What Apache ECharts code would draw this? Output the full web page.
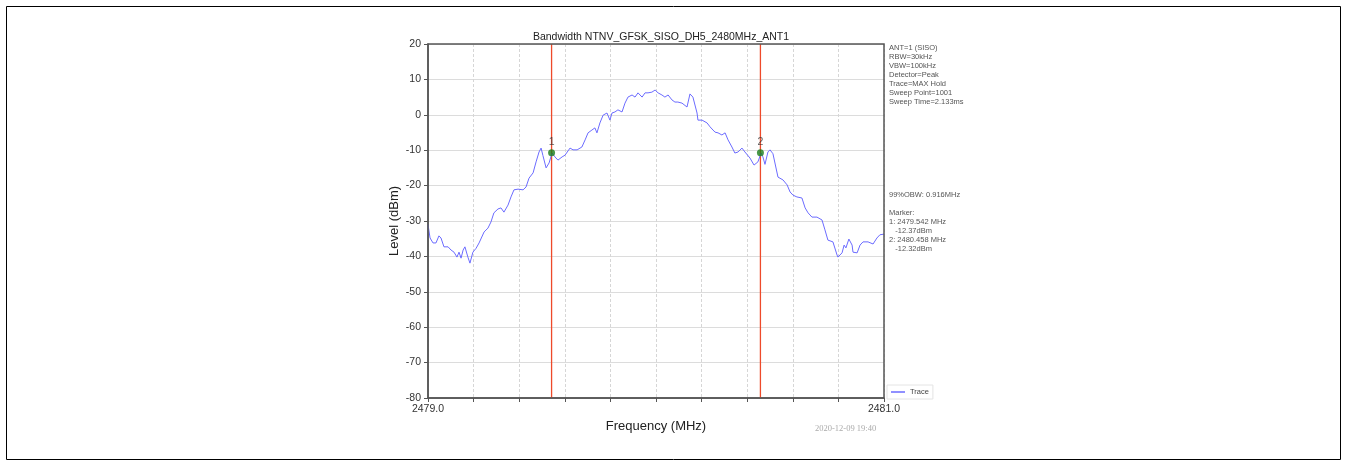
<!DOCTYPE html>
<html><head><meta charset="utf-8">
<script src="https://cdn.jsdelivr.net/npm/echarts@6/dist/echarts.min.js"></script>
<style>html,body{margin:0;padding:0;background:#fff}#c{width:1347px;height:466px}</style>
</head><body><div id="c"></div>
<script>
const title = 'Bandwidth NTNV_GFSK_SISO_DH5_2480MHz_ANT1';
const freqMHz = [2479.000,2479.009,2479.022,2479.035,2479.048,2479.057,2479.070,2479.088,2479.101,2479.114,2479.127,2479.136,2479.145,2479.154,2479.162,2479.175,2479.184,2479.197,2479.211,2479.224,2479.246,2479.263,2479.276,2479.289,2479.307,2479.320,2479.333,2479.351,2479.364,2479.377,2479.395,2479.417,2479.430,2479.443,2479.461,2479.474,2479.487,2479.496,2479.504,2479.518,2479.531,2479.544,2479.557,2479.570,2479.588,2479.601,2479.623,2479.636,2479.654,2479.675,2479.689,2479.702,2479.719,2479.732,2479.741,2479.754,2479.768,2479.785,2479.798,2479.807,2479.820,2479.833,2479.851,2479.864,2479.877,2479.895,2479.908,2479.921,2479.939,2479.952,2479.965,2479.982,2479.996,2480.009,2480.026,2480.039,2480.053,2480.070,2480.083,2480.096,2480.114,2480.136,2480.149,2480.162,2480.180,2480.184,2480.202,2480.224,2480.237,2480.250,2480.259,2480.272,2480.289,2480.303,2480.316,2480.333,2480.346,2480.360,2480.377,2480.390,2480.412,2480.430,2480.447,2480.461,2480.469,2480.478,2480.491,2480.500,2480.513,2480.535,2480.557,2480.575,2480.588,2480.601,2480.618,2480.640,2480.654,2480.667,2480.684,2480.706,2480.728,2480.741,2480.754,2480.776,2480.794,2480.798,2480.816,2480.825,2480.833,2480.846,2480.860,2480.864,2480.882,2480.895,2480.908,2480.930,2480.952,2480.969,2480.982,2481.000];
const levelDBm = [-31.0,-34.8,-36.2,-36.2,-34.2,-34.8,-37.3,-37.3,-38.2,-38.8,-40.2,-38.8,-40.5,-38.2,-37.3,-40.2,-41.9,-38.8,-37.7,-36.2,-33.1,-32.0,-30.3,-27.7,-26.6,-26.3,-27.5,-25.5,-23.2,-21.2,-21.0,-21.2,-20.4,-17.9,-16.4,-13.3,-10.5,-9.4,-11.5,-15.0,-13.6,-10.8,-11.9,-12.8,-11.9,-11.4,-9.4,-9.9,-9.9,-9.1,-7.1,-5.1,-4.3,-3.7,-5.1,-2.3,-0.1,0.5,-1.5,0.5,0.8,1.4,0.8,3.3,5.0,5.6,5.0,6.2,5.0,6.2,6.2,6.4,7.0,6.2,5.6,5.0,5.6,4.2,3.6,3.6,3.3,2.2,5.9,5.0,0.5,-1.5,-1.5,-2.3,-3.4,-4.3,-4.9,-5.1,-5.7,-5.1,-7.1,-9.1,-10.8,-10.5,-9.4,-10.5,-12.2,-14.2,-13.3,-10.8,-11.9,-14.0,-10.5,-9.9,-11.0,-17.6,-18.4,-19.8,-21.8,-22.7,-23.2,-23.5,-26.3,-27.7,-28.9,-28.9,-29.7,-32.5,-35.4,-35.9,-39.6,-40.2,-39.0,-36.8,-37.6,-35.1,-36.8,-38.8,-39.0,-36.8,-35.9,-35.9,-36.5,-34.8,-33.9,-33.7];
const markerFreq = [2479.542, 2480.458];
const markerLevel = [-10.7, -10.7];
const markerNames = ['1', '2'];
const levelRange = [-80, 20];
const infoLines = ['ANT=1 (SISO)','RBW=30kHz','VBW=100kHz','Detector=Peak','Trace=MAX Hold','Sweep Point=1001','Sweep Time=2.133ms'];
const obwLines = ['99%OBW: 0.916MHz','','Marker:','1: 2479.542 MHz','   -12.37dBm','2: 2480.458 MHz','   -12.32dBm'];
const timestamp = '2020-12-09 19:40';

const chart = echarts.init(document.getElementById('c'), null, {renderer:'canvas'});
const ff = 'Liberation Sans, Arial, sans-serif';
const red = '#ee4a2a';
const graphics = [
  {type:'rect', shape:{x:6.5,y:6.5,width:1334,height:453}, style:{fill:'none',stroke:'#000',lineWidth:1}, silent:true},
  {type:'rect', shape:{x:428,y:44,width:456,height:354}, style:{fill:'none',stroke:'#555',lineWidth:1.5}, silent:true, z:100},
  {type:'text', x:889, y:43, style:{text:infoLines.join('\n'), font:'7.5px '+ff, fill:'#555', lineHeight:9}},
  {type:'text', x:889, y:190, style:{text:obwLines.join('\n'), font:'7.5px '+ff, fill:'#555', lineHeight:9}},
  {type:'text', x:815, y:424, style:{text:timestamp, font:'8.5px Liberation Serif, serif', fill:'#aaa'}}
];
const markerLineSeries = markerFreq.map((f,i)=>({
  name:'M'+(i+1), type:'line', data:levelRange.map(v=>[f, v]), symbol:'none', silent:true, z:2,
  lineStyle:{color:red, width:1.3}, itemStyle:{color:red}
}));
chart.setOption({
  animation:false,
  title:{text:title, left:656, top:27, textAlign:'center', textStyle:{fontFamily:ff, fontSize:10.5, fontWeight:'normal', color:'#222'}},
  grid:{left:428, right:463, top:44, bottom:68, show:false},
  legend:{data:['Trace'], left:887, top:385, orient:'vertical', icon:'rect', itemWidth:14, itemHeight:1.5, itemGap:4,
    textStyle:{fontFamily:ff, fontSize:7.5, color:'#444'}, borderColor:'#e4e4e4', borderWidth:1, padding:[3,4,3,4]},
  xAxis:{type:'value', min:2479, max:2481, interval:0.2,
    name:'Frequency (MHz)', nameLocation:'middle', nameGap:22,
    nameTextStyle:{fontFamily:ff, fontSize:13, color:'#222'},
    axisLine:{show:true, onZero:false, lineStyle:{color:'#555', width:1.5}},
    axisTick:{show:true, length:4, lineStyle:{color:'#555'}},
    axisLabel:{fontFamily:ff, fontSize:10.5, color:'#333', margin:6, showMaxLabel:true, showMinLabel:true,
      formatter:function(v){ return (Math.abs(v-2479)<1e-6 || Math.abs(v-2481)<1e-6) ? v.toFixed(1) : ''; }},
    splitLine:{show:true, lineStyle:{color:'#d6d6d6', width:1, type:[3,2]}}},
  yAxis:{type:'value', min:-80, max:20, interval:10,
    name:'Level (dBm)', nameLocation:'middle', nameGap:27, nameRotate:90,
    nameTextStyle:{fontFamily:ff, fontSize:13, color:'#222'},
    axisLine:{show:true, onZero:false, lineStyle:{color:'#555', width:1.5}},
    axisTick:{show:true, length:4, lineStyle:{color:'#555'}},
    axisLabel:{fontFamily:ff, fontSize:10.5, color:'#333', margin:7},
    splitLine:{show:true, lineStyle:{color:'#dcdcdc', width:1}}},
  series:[
    {name:'Trace', type:'line', data:freqMHz.map((f,i)=>[f, levelDBm[i]]), symbol:'none', smooth:false,
      lineStyle:{color:'#6b6bff', width:1}, itemStyle:{color:'#6b6bff'}, z:3},
    ...markerLineSeries,
    {name:'Markers', type:'scatter', data:markerFreq.map((f,i)=>[f, markerLevel[i]]), symbol:'circle', symbolSize:7, z:5,
      itemStyle:{color:'#1a7d1a'},
      label:{show:true, position:'top', distance:2, formatter:p=>markerNames[p.dataIndex], fontFamily:ff, fontSize:10.5, color:'#333'}}
  ],
  graphic:graphics
});
</script></body></html>
